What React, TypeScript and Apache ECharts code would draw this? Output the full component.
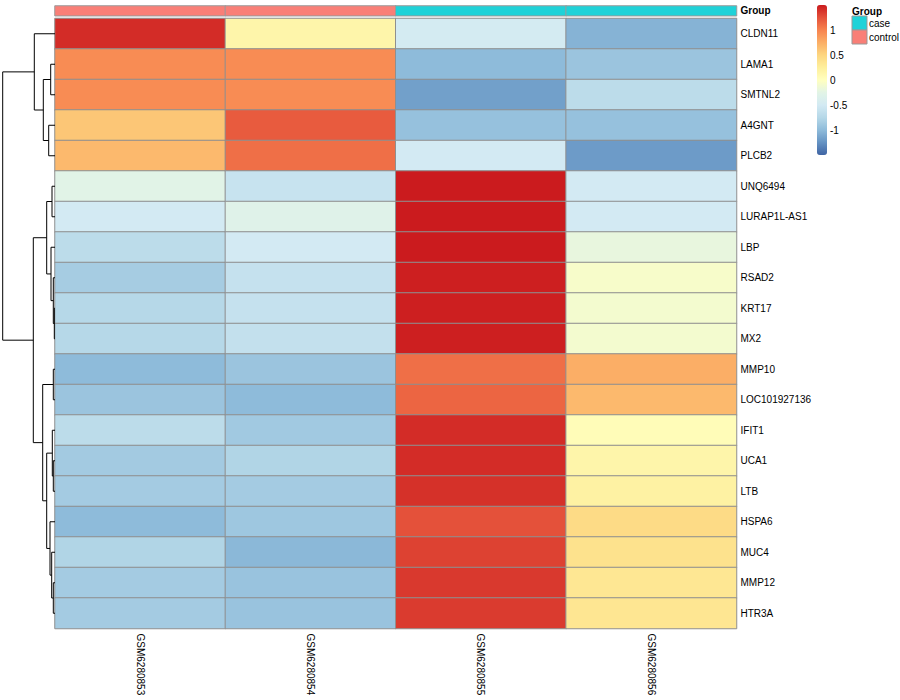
import React, { useEffect, useRef } from 'react';
import * as echarts from 'echarts';

// ---------- data ----------
const samples = ['GSM6280853', 'GSM6280854', 'GSM6280855', 'GSM6280856'];
const sampleGroup = ['control', 'control', 'case', 'case'];
const groupLevels = ['case', 'control'];
const groupColors = ['#1FD2D8', '#F97F77'];

const genes = [
  'CLDN11', 'LAMA1', 'SMTNL2', 'A4GNT', 'PLCB2', 'UNQ6494', 'LURAP1L-AS1', 'LBP', 'RSAD2', 'KRT17',
  'MX2', 'MMP10', 'LOC101927136', 'IFIT1', 'UCA1', 'LTB', 'HSPA6', 'MUC4', 'MMP12', 'HTR3A',
];

// row z-scores, one array per sample (gene order as above)
const zGSM6280853 = [1.42, 0.95, 0.95, 0.6, 0.68, -0.27, -0.5, -0.7, -0.85, -0.75, -0.75, -1.0, -0.92, -0.7, -0.87, -0.86, -1.0, -0.78, -0.86, -0.86];
const zGSM6280854 = [0.15, 0.95, 0.95, 1.2, 1.1, -0.6, -0.3, -0.5, -0.62, -0.62, -0.64, -0.92, -1.0, -0.88, -0.78, -0.86, -0.9, -1.02, -0.93, -0.93];
const zGSM6280855 = [-0.48, -1.0, -1.17, -0.95, -0.5, 1.5, 1.5, 1.5, 1.48, 1.48, 1.48, 1.1, 1.15, 1.42, 1.42, 1.4, 1.25, 1.32, 1.36, 1.35];
const zGSM6280856 = [-1.05, -0.92, -0.7, -0.95, -1.2, -0.5, -0.5, -0.2, -0.07, -0.1, -0.1, 0.75, 0.68, 0.05, 0.15, 0.2, 0.45, 0.38, 0.33, 0.34];
const sampleValues = [zGSM6280853, zGSM6280854, zGSM6280855, zGSM6280856];

// colour scale (evenly spaced from scaleMin to scaleMax)
const scaleMin = -1.5;
const scaleMax = 1.5;
const scaleColors = [
  '#3F64A4', '#6593C3', '#8EBBDA', '#B6D8E8', '#D3EAF3', '#E2F4E6', '#FFFFBF',
  '#FEEF9C', '#FDD680', '#FBAE66', '#F7834F', '#E4513A', '#CB1B1E',
];
const legendTicks = [-1, -0.5, 0, 0.5, 1];

// row dendrogram merges: [id, left, right, height]; numbers = gene row index
const dendroMerges: [string, number | string, number | string, number][] = [
  ['m0', 1, 2, 4.3],
  ['m1', 3, 4, 6.3],
  ['m2', 'm0', 'm1', 11.7],
  ['m3', 0, 'm2', 20.7],
  ['m4', 5, 6, 3.0],
  ['m5', 9, 10, 0.7],
  ['m6', 8, 'm5', 1.7],
  ['m7', 7, 'm6', 4.0],
  ['m8', 'm4', 'm7', 8.3],
  ['m9', 11, 12, 1.7],
  ['m10', 14, 15, 1.7],
  ['m11', 13, 'm10', 2.7],
  ['m12', 18, 19, 1.7],
  ['m13', 17, 'm12', 3.3],
  ['m14', 16, 'm13', 5.0],
  ['m15', 'm11', 'm14', 8.3],
  ['m16', 'm9', 'm15', 12.3],
  ['m17', 'm8', 'm16', 21.7],
  ['m18', 'm3', 'm17', 52.3],
];

const FONT = "'Liberation Sans', Arial, Helvetica, sans-serif";

export default function App() {
  const ref = useRef<HTMLDivElement>(null);

  useEffect(() => {
    if (!ref.current) return;
    const chart = echarts.init(ref.current, null, { renderer: 'svg' });

    const heatData: [number, number, number][] = [];
    sampleValues.forEach((col, si) => {
      col.forEach((v, gi) => heatData.push([si, gi, v]));
    });

    const annData = sampleGroup.map((g, si) => [si, 0, groupLevels.indexOf(g)]);

    // dendrogram segments
    const nodes: Record<string, { y: number; h: number }> = {};
    const pos = (k: number | string) => (typeof k === 'number' ? { y: k, h: 0 } : nodes[k]);
    const segs: number[][] = [];
    dendroMerges.forEach(([id, a, b, h]) => {
      const pa = pos(a);
      const pb = pos(b);
      nodes[id] = { y: (pa.y + pb.y) / 2, h };
      segs.push([pa.h, pa.y, h, pb.y, pb.h]);
    });
    const maxH = Math.max(...dendroMerges.map((m) => m[3]));

    const hmLeft = 55;
    const hmWidth = 681.5;
    const hmTop = 18.5;
    const hmHeight = 610;

    const graphics: any[] = [
      {
        type: 'text',
        left: 852,
        top: 6,
        style: { text: 'Group', font: `bold 10px ${FONT}`, fill: '#000' },
      },
    ];
    groupLevels.forEach((g, i) => {
      graphics.push({
        type: 'rect',
        shape: { x: 852, y: 16 + i * 14, width: 15, height: 14 },
        style: { fill: groupColors[i], stroke: '#999', lineWidth: 1 },
      });
      graphics.push({
        type: 'text',
        x: 869,
        y: 23 + i * 14,
        style: { text: g, font: `10px ${FONT}`, fill: '#000', textVerticalAlign: 'middle', verticalAlign: 'middle' },
      });
    });

    const option: any = {
      animation: false,
      backgroundColor: '#fff',
      textStyle: { fontFamily: FONT },
      grid: [
        { left: hmLeft, top: hmTop, width: hmWidth, height: hmHeight },
        { left: hmLeft, top: 6, width: hmWidth, height: 9.7 },
        { left: 2.7, top: hmTop, width: 52.3, height: hmHeight },
        { left: 817, top: 5, width: 10, height: 150 },
      ],
      xAxis: [
        {
          gridIndex: 0,
          type: 'category',
          data: samples,
          position: 'bottom',
          axisLine: { show: false },
          axisTick: { show: false },
          splitLine: { show: false },
          axisLabel: { rotate: -90, fontSize: 10, color: '#000', margin: 5, fontFamily: FONT },
        },
        { gridIndex: 1, type: 'category', data: samples, show: false },
        { gridIndex: 2, type: 'value', min: 0, max: maxH, inverse: true, show: false },
        { gridIndex: 3, type: 'value', min: 0, max: 1, show: false },
      ],
      yAxis: [
        {
          gridIndex: 0,
          type: 'category',
          data: genes,
          inverse: true,
          position: 'right',
          axisLine: { show: false },
          axisTick: { show: false },
          splitLine: { show: false },
          axisLabel: { fontSize: 10, color: '#000', margin: 4, fontFamily: FONT },
        },
        {
          gridIndex: 1,
          type: 'category',
          data: ['Group'],
          position: 'right',
          axisLine: { show: false },
          axisTick: { show: false },
          axisLabel: { fontSize: 10, fontWeight: 'bold', color: '#000', margin: 4, fontFamily: FONT },
        },
        { gridIndex: 2, type: 'value', min: -0.5, max: genes.length - 0.5, inverse: true, show: false },
        {
          gridIndex: 3,
          type: 'value',
          min: scaleMin,
          max: scaleMax,
          interval: 0.5,
          position: 'right',
          axisLine: { show: false },
          axisTick: { show: false },
          splitLine: { show: false },
          axisLabel: {
            fontSize: 10,
            color: '#000',
            margin: 3,
            fontFamily: FONT,
            formatter: (v: number) => (legendTicks.some((t) => Math.abs(t - v) < 1e-9) ? String(v) : ''),
          },
        },
      ],
      visualMap: [
        {
          type: 'continuous',
          seriesIndex: 0,
          dimension: 2,
          min: scaleMin,
          max: scaleMax,
          inRange: { color: scaleColors },
          left: 817,
          top: 5,
          padding: 0,
          itemWidth: 10,
          itemHeight: 150,
          text: ['', ''],
          calculable: false,
          hoverLink: false,
          orient: 'vertical',
        },
        {
          type: 'piecewise',
          show: false,
          seriesIndex: 1,
          dimension: 2,
          pieces: groupLevels.map((g, i) => ({ value: i, color: groupColors[i], label: g })),
        },
      ],
      series: [
        {
          type: 'heatmap',
          xAxisIndex: 0,
          yAxisIndex: 0,
          data: heatData,
          itemStyle: { borderColor: '#8f8f8f', borderWidth: 1 },
          emphasis: { disabled: true },
        },
        {
          type: 'heatmap',
          xAxisIndex: 1,
          yAxisIndex: 1,
          data: annData,
          itemStyle: { borderColor: '#9a9a9a', borderWidth: 1 },
          emphasis: { disabled: true },
        },
        {
          type: 'custom',
          xAxisIndex: 2,
          yAxisIndex: 2,
          data: segs,
          clip: false,
          silent: true,
          renderItem: (_p: any, api: any) => {
            const ha = api.value(0);
            const ya = api.value(1);
            const h = api.value(2);
            const yb = api.value(3);
            const hb = api.value(4);
            return {
              type: 'polyline',
              shape: {
                points: [api.coord([ha, ya]), api.coord([h, ya]), api.coord([h, yb]), api.coord([hb, yb])],
              },
              style: { stroke: '#000', fill: 'none', lineWidth: 1 },
            };
          },
        },
      ],
      graphic: graphics,
    };

    chart.setOption(option);
    return () => chart.dispose();
  }, []);

  return <div ref={ref} style={{ position: 'fixed', left: 0, top: 0, width: 900, height: 700 }} />;
}
